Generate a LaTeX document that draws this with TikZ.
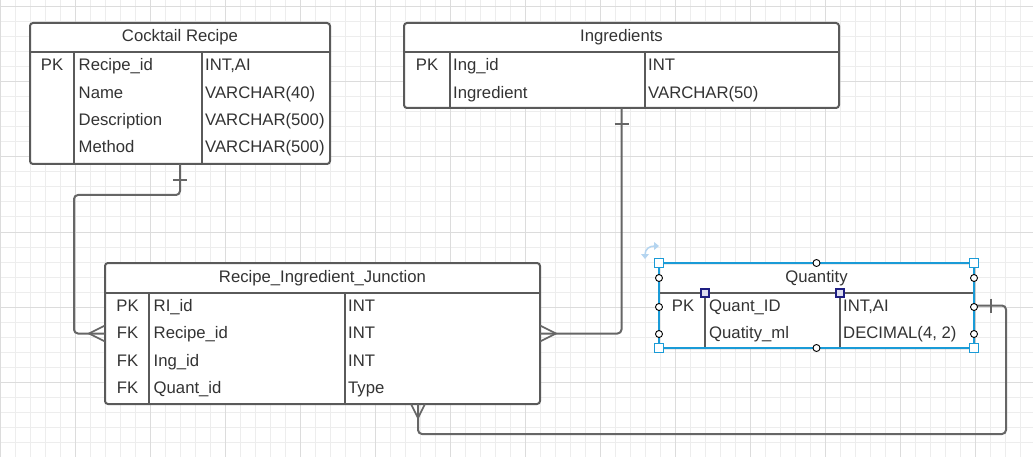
\documentclass[tikz,border=0pt]{standalone}
\usepackage{fontspec}
\setmainfont{Liberation Sans}
\usetikzlibrary{calc,arrows.meta}
\definecolor{gridminor}{HTML}{EDEDED}
\definecolor{gridmajor}{HTML}{DCDCDC}
\definecolor{bord}{HTML}{5A5A5A}
\definecolor{txt}{HTML}{333333}
\definecolor{conncol}{HTML}{666666}
\definecolor{sel}{HTML}{1A9BD7}
\definecolor{selnavy}{HTML}{1E1E82}
\definecolor{selfill}{HTML}{DEDEF0}
\definecolor{rotc}{HTML}{B5D5F0}
\begin{document}
\begin{tikzpicture}[x=1pt,y=-1pt,
  tbl/.style={draw=bord, line width=2pt, fill=white, rounded corners=3pt, inner sep=0pt, outer sep=0pt},
  sepline/.style={draw=bord, line width=2pt},
  lbl/.style={text=txt, font=\fontsize{16.7}{19}\selectfont, inner sep=0pt, anchor=base west},
  ttl/.style={lbl, anchor=base},
  keyl/.style={lbl, anchor=base},
  conn/.style={draw=conncol, line width=2pt, rounded corners=4pt},
  foot/.style={draw=conncol, line width=1.6pt},
  minorg/.style={draw=gridminor, line width=1pt},
  majorg/.style={draw=gridmajor, line width=1pt},
  handle/.style={draw=sel, fill=white, line width=1.2pt},
  circh/.style={draw=black, fill=white, line width=0.9pt},
  colh/.style={draw=selnavy, fill=selfill, line width=1.2pt}]
\useasboundingbox (0,0) rectangle (1033,457);
\fill[white] (0,0) rectangle (1033,457);
% grid
\foreach \x in {0,15,...,1033} \draw[minorg] (\x,0) -- (\x,457);
\foreach \y in {7,22,...,457} \draw[minorg] (0,\y) -- (1033,\y);
\foreach \x in {0,75,...,1033} \draw[majorg] (\x,0) -- (\x,457);
\foreach \y in {7,82,...,457} \draw[majorg] (0,\y) -- (1033,\y);

% tables
\node[tbl, minimum width=300pt, minimum height=141pt] (cr) at (180,93.5) {};
\node[tbl, minimum width=435pt, minimum height=85pt] (ing) at (621.5,65.5) {};
\node[tbl, minimum width=435pt, minimum height=141pt] (jun) at (322.5,333.5) {};
\node[tbl, minimum width=315pt, minimum height=85pt] (q) at (816.5,305.5) {};

% internal lines
\draw[sepline] (30,52) -- (330,52) (74,52) -- (74,164) (202,52) -- (202,164);
\draw[sepline] (404,52) -- (839,52) (450,52) -- (450,108) (645,52) -- (645,108);
\draw[sepline] (105,293) -- (540,293) (149,293) -- (149,404) (345,293) -- (345,404);
\draw[sepline] (659,293) -- (974,293) (705,293) -- (705,348) (840,293) -- (840,348);

% Cocktail Recipe
\node[ttl] (crt) at (180,42) {Cocktail Recipe};
\node[keyl] (crk1) at (52,71) {PK};
\node[lbl] (crf1) at (78.5,71) {Recipe\_id};
\node[lbl] (crf2) at (78.5,98.5) {Name};
\node[lbl] (crf3) at (78.5,126) {Description};
\node[lbl] (crf4) at (78.5,153) {Method};
\node[lbl] (cry1) at (205,71) {INT,AI};
\node[lbl] (cry2) at (205,98.5) {VARCHAR(40)};
\node[lbl] (cry3) at (205,126) {VARCHAR(500)};
\node[lbl] (cry4) at (205,153) {VARCHAR(500)};

% Ingredients
\node[ttl] (ingt) at (621.5,42) {Ingredients};
\node[keyl] (ingk1) at (427,71) {PK};
\node[lbl] (ingf1) at (453,71) {Ing\_id};
\node[lbl] (ingf2) at (453,98.5) {Ingredient};
\node[lbl] (ingy1) at (648,71) {INT};
\node[lbl] (ingy2) at (648,98.5) {VARCHAR(50)};

% Junction
\node[ttl] (junt) at (322.5,282) {Recipe\_Ingredient\_Junction};
\node[keyl] (junk1) at (127.5,311) {PK};
\node[keyl] (junk2) at (127.5,338.5) {FK};
\node[keyl] (junk3) at (127.5,366) {FK};
\node[keyl] (junk4) at (127.5,393) {FK};
\node[lbl] (junf1) at (153.5,311) {RI\_id};
\node[lbl] (junf2) at (153.5,338.5) {Recipe\_id};
\node[lbl] (junf3) at (153.5,366) {Ing\_id};
\node[lbl] (junf4) at (153.5,393) {Quant\_id};
\node[lbl] (juny1) at (348,311) {INT};
\node[lbl] (juny2) at (348,338.5) {INT};
\node[lbl] (juny3) at (348,366) {INT};
\node[lbl] (juny4) at (348,393) {Type};

% Quantity
\node[ttl] (qt) at (816.5,282) {Quantity};
\node[keyl] (qk1) at (683,311) {PK};
\node[lbl] (qf1) at (709,311) {Quant\_ID};
\node[lbl] (qf2) at (709,338.5) {Quatity\_ml};
\node[lbl] (qy1) at (843,311) {INT,AI};
\node[lbl] (qy2) at (843,338.5) {DECIMAL(4, 2)};

% connectors
\coordinate (jb) at ($(jun.south)+(95.5,0)$);
\draw[conn] (cr.south) -- ++(0,31) -| ($(jun.west)+(-31,0)$) -- (jun.west);
\draw[conn] (ing.south) |- (jun.east);
\draw[conn] (q.east) -- ++(32,0) |- ($(jb)+(0,30)$) -- (jb);

% one-ticks
\draw[foot] ($(cr.south)+(-7,16)$) -- ($(cr.south)+(7,16)$);
\draw[foot] ($(ing.south)+(-7,16)$) -- ($(ing.south)+(7,16)$);
\draw[foot] ($(q.east)+(17,-7)$) -- ($(q.east)+(17,7)$);

% crow's feet
\draw[foot] ($(jun.west)+(0,-8)$) -- ($(jun.west)+(-16,0)$) -- ($(jun.west)+(0,8)$);
\draw[foot] ($(jun.east)+(0,-8)$) -- ($(jun.east)+(16,0)$) -- ($(jun.east)+(0,8)$);
\draw[foot] ($(jb)+(-7,0)$) -- ($(jb)+(0,14)$) -- ($(jb)+(7,0)$);

% selection of Quantity
\draw[draw=sel, line width=1.4pt] (659,263) rectangle (974,348);
\foreach \px/\py in {659/263,974/263,659/348,974/348}
  \draw[handle] (\px-4.5,\py-4.5) rectangle (\px+4.5,\py+4.5);
\foreach \px/\py in {816.5/263,816.5/348,659/278,659/307,659/334,974/278,974/307,974/334}
  \draw[circh] (\px,\py) circle[radius=3.5];
\foreach \px in {705,840}
  \draw[colh] (\px-4,293-4) rectangle (\px+4,293+4);
\draw[draw=rotc, line width=1.5pt] (645,255) .. controls (645,249) and (649,246) .. (655,246);
\fill[rotc] (641,254) -- (649,254) -- (645,259) -- cycle;
\fill[rotc] (654,242) -- (654,250) -- (659,246) -- cycle;
\end{tikzpicture}
\end{document}
